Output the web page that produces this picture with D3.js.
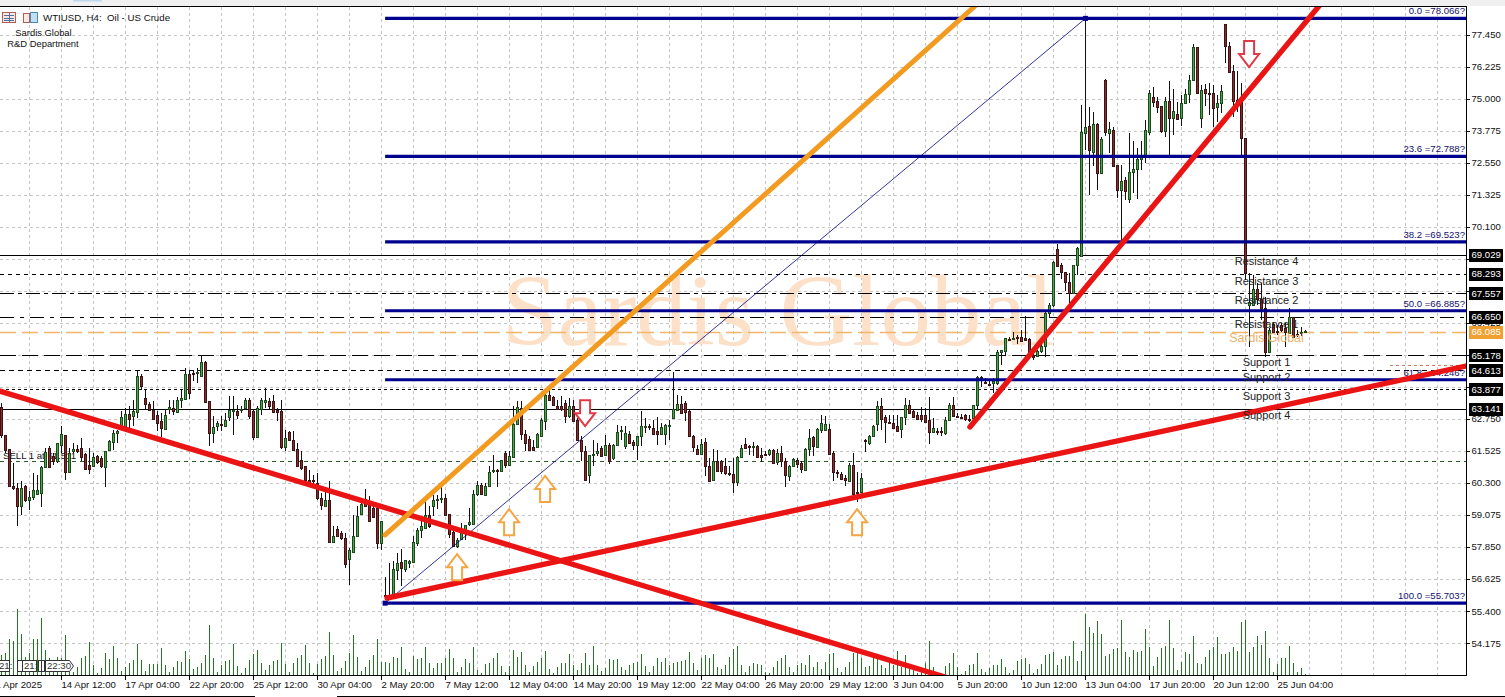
<!DOCTYPE html>
<html><head><meta charset="utf-8">
<style>html,body{margin:0;padding:0;background:#fff;overflow:hidden}svg{display:block}text{font-family:"Liberation Sans",Arial,sans-serif;white-space:pre}</style>
<script src="https://cdnjs.cloudflare.com/ajax/libs/d3/7.9.0/d3.min.js"></script>
</head><body><svg id="c" width="1505" height="697"></svg>
<script>
const opens=[63.21,62.15,61.60,60.19,60.10,59.40,60.17,59.66,59.76,59.89,59.91,60.91,61.64,61.32,61.13,61.76,62.13,60.70,61.51,61.61,
61.64,61.42,60.99,60.93,61.32,61.25,60.91,61.53,61.85,62.21,62.49,62.49,62.94,62.85,63.04,64.40,63.55,63.32,63.10,62.91,
62.66,62.39,63.13,63.17,63.04,63.49,63.51,64.48,64.51,64.48,64.40,64.94,63.42,62.21,62.49,62.57,62.49,62.85,63.06,63.06,
63.10,63.17,63.49,63.04,62.06,63.13,63.42,63.42,63.42,63.10,63.04,61.67,62.24,61.95,61.61,61.19,60.93,60.42,60.40,60.30,
59.72,59.44,59.66,58.06,58.54,58.38,58.19,57.39,57.68,58.28,59.12,59.68,59.47,59.34,59.34,58.00,56.02,56.00,56.02,56.98,
57.26,57.00,57.23,57.30,58.02,58.51,58.57,59.06,59.40,59.66,59.70,59.72,59.11,58.41,57.87,58.13,58.38,58.70,58.76,59.89,
60.23,59.85,60.17,60.74,60.81,60.74,61.44,61.00,61.32,62.57,63.17,62.18,61.98,61.67,61.67,62.11,62.69,63.68,63.59,63.26,
63.23,63.36,62.85,63.26,62.69,61.93,61.51,60.61,61.38,61.42,61.64,61.37,61.74,61.25,61.76,62.27,61.70,62.18,61.85,61.73,
62.08,62.44,62.47,62.40,62.27,62.18,62.18,62.49,62.78,63.10,63.33,63.36,63.06,62.11,61.60,61.42,61.85,60.96,60.42,61.13,
61.13,60.93,60.68,60.64,60.32,61.29,61.80,61.70,61.67,61.73,61.38,61.41,61.38,61.57,61.09,61.44,61.13,60.55,60.96,61.16,
61.06,60.81,61.60,62.06,61.67,62.34,62.34,62.36,61.44,60.70,60.65,60.49,60.40,61.00,59.96,59.94,61.93,61.83,62.11,62.53,
63.24,62.82,62.63,62.59,62.48,62.36,62.82,63.28,63.05,62.90,62.90,62.90,62.70,62.25,62.28,62.28,62.21,62.70,63.28,62.86,
62.82,62.90,62.74,62.78,63.28,64.35,64.16,64.08,64.12,64.12,65.31,65.34,65.80,65.80,65.88,65.88,65.84,65.80,65.19,65.15,
65.34,65.54,66.80,67.10,69.25,68.63,68.37,67.98,67.56,68.63,68.98,73.68,73.95,72.96,74.03,72.15,75.71,73.68,73.80,72.46,
71.50,71.89,71.16,72.19,72.31,72.69,72.84,73.72,75.06,74.91,74.72,73.76,74.91,74.26,74.41,74.26,74.83,75.17,75.71,76.97,
74.26,75.37,75.21,75.21,74.68,74.83,77.85,77.01,76.05,74.95,74.95,73.49,67.10,67.10,67.71,67.33,66.99,65.31,66.38,66.11,
66.34,66.22,66.03,66.64,65.99,66.07,66.11];
const closes=[62.15,61.57,60.17,60.10,59.40,60.10,59.63,59.76,60.02,60.04,60.91,61.47,60.93,61.13,61.83,62.18,60.70,61.44,61.60,61.55,
61.29,60.86,60.83,61.29,61.09,60.93,61.51,61.89,62.21,62.27,62.81,62.94,62.76,63.06,64.40,64.00,63.32,63.10,62.75,62.62,
62.39,62.91,63.21,63.06,63.49,63.55,64.48,63.74,64.48,64.53,64.94,63.42,62.21,62.44,62.59,62.53,62.72,63.10,63.10,62.91,
63.13,63.49,62.87,62.06,63.17,63.49,63.49,63.23,63.00,63.04,61.67,62.02,61.93,61.57,60.97,60.87,60.40,60.35,60.35,59.72,
59.44,59.66,58.06,58.28,58.28,58.19,57.21,57.74,58.28,59.05,59.50,59.43,58.87,59.00,58.00,58.83,56.00,55.89,57.00,57.23,
57.04,57.36,57.30,58.06,58.51,58.66,59.06,58.64,59.63,59.68,59.72,59.08,58.36,57.87,58.10,58.45,58.68,58.79,59.89,60.23,
59.89,60.19,60.72,60.78,60.78,61.16,61.00,61.34,62.57,63.21,62.18,61.83,61.55,61.55,62.18,62.72,63.68,63.49,63.27,63.13,
63.10,62.85,63.23,62.69,61.93,61.51,60.42,61.37,61.42,61.51,61.34,61.74,61.13,61.76,62.24,62.31,62.21,61.85,61.73,62.08,
62.47,62.49,62.44,62.16,62.15,62.44,62.52,62.52,63.13,63.33,63.00,63.01,62.11,61.70,61.42,61.80,60.93,60.40,61.13,60.74,
60.74,60.65,60.64,60.32,61.29,61.64,61.64,61.67,61.70,61.32,61.32,61.38,61.55,61.09,61.44,61.13,60.58,60.93,61.21,61.00,
60.83,61.60,62.02,61.70,62.36,62.59,62.57,61.42,60.70,60.65,60.45,60.40,61.00,59.91,59.94,60.49,61.90,62.11,62.49,63.23,
62.74,62.63,62.59,62.40,62.28,62.82,63.28,62.97,62.82,62.74,62.74,62.63,62.25,62.40,62.25,62.25,62.70,63.28,62.86,62.82,
62.80,62.74,62.70,63.28,64.35,64.31,64.12,64.04,64.20,65.31,65.38,65.84,65.77,65.84,65.84,65.73,65.77,65.19,65.11,65.34,
65.54,66.80,67.10,68.75,68.60,68.37,67.98,67.56,68.63,69.28,73.72,73.91,73.03,74.03,72.15,73.45,73.72,73.84,72.42,71.50,
71.85,71.46,72.19,72.31,72.69,72.84,73.80,75.21,74.87,74.68,73.76,74.91,74.26,74.52,74.22,74.83,75.17,75.71,76.97,75.21,
75.33,75.21,75.17,74.64,74.83,75.29,77.01,76.01,74.91,74.91,73.49,68.33,67.22,67.71,67.33,66.95,65.31,66.15,66.07,66.07,
66.15,66.07,66.64,65.88,65.96,66.07,66.11];
const highs=[63.36,62.15,61.60,61.06,60.30,60.36,60.23,59.98,60.68,60.61,60.93,61.64,61.70,61.44,61.83,62.49,62.13,61.64,61.83,61.76,
62.02,61.44,61.64,61.44,61.38,61.32,61.51,61.95,62.34,62.34,63.04,63.17,63.23,63.49,64.63,64.48,63.84,63.38,63.42,63.04,
62.98,63.13,63.49,63.49,63.58,63.87,64.70,64.63,64.63,64.70,65.21,64.95,63.42,62.85,62.66,62.85,62.98,63.61,63.61,63.29,
63.23,63.55,63.55,63.10,63.23,63.55,63.93,63.55,63.68,63.17,63.49,62.34,62.27,62.27,61.83,61.51,60.93,60.81,60.61,60.68,
59.91,59.98,60.36,58.64,58.66,58.45,58.38,57.81,59.08,59.40,59.66,60.07,59.79,59.59,59.40,58.83,56.70,57.23,57.30,57.62,
57.77,57.36,57.36,58.28,58.57,59.02,59.66,59.40,59.85,59.85,60.17,59.89,59.12,58.45,58.19,58.76,58.70,59.34,60.04,60.36,
60.30,60.30,60.93,61.38,60.83,61.19,61.51,61.51,63.23,63.42,63.42,62.34,62.11,61.95,62.21,62.78,63.87,63.89,63.61,63.49,
63.61,63.49,63.55,63.49,62.78,62.11,61.70,61.38,61.95,61.83,61.70,62.15,61.83,61.80,62.53,62.49,62.49,62.27,61.93,62.11,
63.06,62.78,62.57,62.69,62.82,62.59,62.57,62.72,64.53,63.68,63.61,63.42,63.08,62.15,61.76,61.98,62.02,61.25,61.60,61.57,
61.19,61.25,60.93,61.25,61.32,61.76,62.02,61.76,61.85,61.76,61.64,61.51,61.60,61.60,61.60,61.73,61.25,61.00,61.25,61.25,
61.13,61.64,62.36,62.11,62.40,62.91,62.85,62.57,61.51,60.81,60.70,60.61,61.06,61.44,60.70,60.68,61.98,62.15,62.53,63.45,
63.55,62.90,62.90,62.90,62.90,62.82,63.55,63.47,63.09,63.01,63.20,63.16,63.58,62.78,62.40,62.44,62.82,63.36,63.58,62.97,
62.93,62.93,62.90,63.28,64.39,64.39,64.31,64.20,64.31,65.38,65.38,65.84,65.88,66.07,65.96,66.15,66.68,65.84,65.27,65.38,
65.69,66.84,67.18,68.79,69.44,68.71,68.37,68.33,68.63,69.32,74.75,78.08,74.68,74.49,74.07,73.53,75.75,74.10,73.91,72.46,
72.46,72.00,73.68,73.38,73.11,73.38,74.18,75.33,75.44,75.06,74.72,75.06,75.67,75.37,74.87,75.14,75.37,75.90,77.09,76.97,
75.52,75.56,75.60,75.52,75.14,75.52,77.85,77.16,76.28,76.05,75.60,73.49,68.33,68.25,67.95,67.95,67.41,66.22,66.45,66.34,
66.41,66.41,66.99,66.64,66.15,66.26,66.15];
const lows=[62.02,61.44,60.17,60.04,58.64,59.08,59.59,59.28,59.66,59.85,59.38,60.88,60.91,61.00,61.06,61.44,60.40,60.68,61.44,61.44,
61.13,60.83,60.65,60.91,61.04,60.87,60.14,61.51,61.57,61.83,62.47,62.44,62.40,62.49,62.78,63.84,63.13,63.04,62.72,62.27,
62.06,62.36,62.95,62.91,62.98,63.17,63.49,63.51,64.19,64.12,64.40,63.36,61.70,61.83,62.27,62.27,62.47,62.66,62.15,62.75,
62.98,63.10,62.75,61.93,62.02,62.91,63.17,63.10,62.98,62.66,61.60,61.51,61.89,61.51,60.96,60.78,60.36,60.30,60.17,59.66,
59.28,59.40,58.02,58.02,58.25,58.10,57.04,56.40,57.62,58.25,59.08,59.40,58.83,58.96,57.77,57.74,55.89,55.86,55.96,56.60,
56.37,56.91,57.04,57.27,57.87,58.19,58.54,58.57,59.02,59.30,59.53,59.06,58.19,57.85,57.83,58.10,58.13,58.66,58.74,59.79,
59.85,59.79,60.14,60.68,60.14,60.72,60.87,60.97,61.29,62.53,61.95,61.51,61.51,61.51,61.64,62.06,62.34,63.49,63.26,63.10,
63.04,62.59,62.78,62.66,61.89,61.13,60.36,60.30,60.93,61.32,61.32,61.32,61.04,61.19,61.70,61.95,61.60,61.83,61.57,61.19,
61.73,62.21,62.34,62.15,61.76,62.15,61.74,61.95,62.76,63.04,62.98,62.66,62.08,61.47,61.38,61.38,60.55,60.32,60.36,60.70,
60.65,60.61,60.55,59.91,60.17,61.25,61.61,61.38,61.34,61.25,61.09,61.32,61.32,61.04,61.00,60.91,60.14,60.36,60.93,60.87,
60.68,60.78,61.32,61.32,61.64,62.21,62.27,61.38,60.36,60.49,60.42,60.17,60.36,59.76,59.56,59.91,61.47,61.76,62.08,62.27,
62.32,61.83,62.55,62.40,62.25,62.02,62.51,62.97,62.78,62.70,62.63,62.59,61.79,62.21,62.13,62.09,62.13,62.67,62.82,62.78,
62.74,62.67,62.63,62.74,63.13,63.97,64.08,64.04,63.74,64.04,64.81,65.19,65.73,65.77,65.61,65.69,65.77,65.11,65.00,65.11,
65.27,65.11,66.61,67.03,68.56,68.10,67.64,67.18,67.56,68.25,68.93,73.03,71.31,72.42,71.50,72.11,73.56,72.92,72.38,71.20,
69.55,71.12,71.00,71.39,71.16,72.27,72.53,73.60,74.68,74.45,73.68,73.53,72.84,73.60,74.18,73.95,74.83,74.83,75.67,75.21,
73.87,74.72,74.37,73.91,74.10,74.45,76.36,76.01,74.30,74.49,72.73,68.06,65.50,67.10,67.10,66.53,65.11,65.27,66.03,65.96,
66.07,65.50,65.99,65.84,65.88,65.92,66.03];
const volumes=[20,22,36,34,66,41,18,22,36,36,57,25,17,15,18,17,40,13,3,8,17,19,33,10,2,7,22,16,29,17,4,8,12,15,31,15,4,11,11,11,27,10,3,8,14,13,24,16,6,8,12,20,50,17,3,10,14,15,31,9,2,7,15,21,25,12,5,10,14,15,32,11,3,12,17,20,30,12,2,11,16,19,43,20,4,7,14,22,40,18,4,8,15,20,36,13,13,12,18,17,
28,6,3,19,16,17,28,12,7,12,12,17,26,17,3,8,16,12,28,5,2,11,12,17,22,9,3,9,25,18,23,10,3,9,13,17,24,6,2,8,12,12,21,10,5,12,22,10,29,10,4,7,16,15,16,8,5,10,12,13,21,9,3,9,17,13,17,10,12,13,14,15,23,12,5,17,20,17,21,8,6,10,18,26,29,10,3,9,12,11,10,3,2,8,14,17,20,8,3,10,
12,10,20,8,13,6,13,21,22,7,3,8,13,22,22,17,8,9,17,18,10,7,14,10,24,8,20,7,5,2,4,12,34,8,2,2,9,12,22,8,1,4,10,11,22,6,3,7,10,10,16,8,2,5,14,16,17,11,2,6,11,20,21,23,10,16,19,19,34,14,24,61,48,42,54,41,19,21,26,27,55,23,18,25,23,24,46,28,9,18,27,29,55,27,5,13,23,21,39,12,
11,18,25,28,38,21,21,23,28,24,53,55,23,28,39,30,44,17,3,11,17,17,29,12,3,7,1];
const priceTicks=[77.45,76.225,75,73.775,72.55,71.325,70.1,68.875,67.65,66.425,65.2,63.975,62.75,61.525,60.3,59.075,57.85,56.625,55.4,54.175];
const dateLabels=["14 Apr 12:00","17 Apr 04:00","22 Apr 20:00","25 Apr 12:00","30 Apr 04:00","2 May 20:00","7 May 12:00","12 May 04:00","14 May 20:00","19 May 12:00","22 May 04:00","26 May 20:00","29 May 12:00","3 Jun 04:00","5 Jun 20:00","10 Jun 12:00","13 Jun 04:00","17 Jun 20:00","20 Jun 12:00","25 Jun 04:00"];
const fibLevels=[0,23.6,38.2,50,61.8,100];
const fibPrices=[78.066,72.788,69.523,66.885,64.246,55.703];
const pivotPrices=[69.029,68.293,67.557,66.650,65.178,64.613,63.877,63.141];
const pivotDashes=[null,"4 4","14 4 4 4","14 6 4 6","16 6","5 4","3 3",null];
const pivotNames=["Resistance 4","Resistance 3","Resistance 2","Resistance 1","Support 1","Support 2","Support 3","Support 4"];
const pivotNameY=[68.78,68.02,67.28,66.38,64.92,64.35,63.62,62.90];
const lastPrice=66.085, sellPrice=61.14;
const redLines=[[-0.4,63.81,235.9,52.88],[96.4,55.90,366.1,64.77],[242.1,62.44,329.6,78.58]];
const orangeLine=[95.9,58.31,243.4,78.54];
const fibDiag=[95.9,55.703,271,78.066];
const upArrows=[[113.9,57.08],[126.9,58.80],[135.9,60.07],[213.9,58.80]];
const downArrows=[[145.9,62.97],[311.9,76.70]];

const W=1505,H=697,R=1466,T=7,B=675;
const x=d3.scaleLinear().domain([0,1]).range([1.5,5.5]);
const y=d3.scaleLinear().domain([77.45,54.175]).range([34.5,643.1]);
const v=d3.scaleLinear().domain([0,70]).range([B,B-70]);
const svg=d3.select("#c");
const defs=svg.append("defs");
defs.append("clipPath").attr("id","plot").append("rect").attr("x",0).attr("y",T).attr("width",R).attr("height",B-T);
const FONT=9.6, INK="#111";
svg.append("rect").attr("width",W).attr("height",H).attr("fill","#fff");
svg.append("rect").attr("width",W).attr("height",6).attr("fill","#f0f0f0");
svg.append("rect").attr("x",73).attr("width",29).attr("height",1.5).attr("fill","#bcd8ee");
const plot=svg.append("g").attr("clip-path","url(#plot)");
// grid
const gg=plot.append("g").attr("stroke","#c4c4c4").attr("stroke-dasharray","3 3").attr("shape-rendering","crispEdges");
gg.selectAll("line.h").data(priceTicks).join("line").attr("class","h").attr("x1",0).attr("x2",R).attr("y1",d=>Math.round(y(d))+.5).attr("y2",d=>Math.round(y(d))+.5);
gg.selectAll("line.v").data(d3.range(7,366,8)).join("line").attr("class","v").attr("x1",d=>x(d)).attr("x2",d=>x(d)).attr("y1",T).attr("y2",B);
// watermark
plot.append("text").attr("x",778).attr("y",345).attr("text-anchor","middle").style("font-family","'Liberation Serif',serif").style("font-size","101px").attr("fill","#fde0c8").text("Sardis Global");
// pivots
const ph=plot.append("g").attr("shape-rendering","crispEdges");
ph.selectAll("line").data(pivotPrices).join("line").attr("x1",0).attr("x2",R).attr("y1",d=>Math.round(y(d))+.5).attr("y2",d=>Math.round(y(d))+.5).attr("stroke","#000").attr("stroke-dasharray",(d,i)=>pivotDashes[i]);
plot.append("line").attr("x1",0).attr("x2",R).attr("y1",Math.round(y(lastPrice))+.5).attr("y2",Math.round(y(lastPrice))+.5).attr("stroke","#f0b66e").attr("stroke-width",1.5).attr("stroke-dasharray","16 6");
plot.append("line").attr("x1",0).attr("x2",R).attr("y1",Math.round(y(sellPrice))+.5).attr("y2",Math.round(y(sellPrice))+.5).attr("stroke","#2d5a2d").attr("stroke-dasharray","4 4").attr("shape-rendering","crispEdges");
plot.append("text").attr("x",3).attr("y",y(sellPrice)-2).style("font-size",FONT+"px").attr("fill","#111").text("SELL 1 at 61.511");
// volumes
plot.append("g").attr("stroke","#1f7a1f").attr("shape-rendering","crispEdges").selectAll("line").data(volumes).join("line")
 .attr("x1",(d,i)=>x(i)).attr("x2",(d,i)=>x(i)).attr("y1",B).attr("y2",d=>v(d));
// candles
const idx=d3.range(opens.length);
const cg=plot.append("g").attr("shape-rendering","crispEdges");
cg.selectAll("line").data(idx).join("line").attr("x1",i=>x(i)).attr("x2",i=>x(i)).attr("y1",i=>y(highs[i])).attr("y2",i=>y(lows[i])).attr("stroke","#111");
cg.selectAll("rect").data(idx).join("rect").attr("x",i=>x(i)-1).attr("width",2)
 .attr("y",i=>Math.round(y(Math.max(opens[i],closes[i])))+.5)
 .attr("height",i=>Math.max(1,Math.round(Math.abs(y(opens[i])-y(closes[i])))))
 .attr("fill",i=>closes[i]>=opens[i]?"#49a649":"#8a2a2a")
 .attr("stroke",i=>closes[i]>=opens[i]?"#1c4a1c":"#3a1414");
// fib
const fib=plot.append("g");
fib.selectAll("line").data(fibPrices).join("line").attr("x1",x(fibDiag[0])).attr("x2",R).attr("y1",d=>y(d)).attr("y2",d=>y(d)).attr("stroke","#00008f").attr("stroke-width",3.2);
plot.append("line").attr("x1",x(fibDiag[0])).attr("y1",y(fibDiag[1])).attr("x2",x(fibDiag[2])).attr("y2",y(fibDiag[3])).attr("stroke","#000080").attr("stroke-width",.8);
plot.selectAll("rect.anchor").data([[fibDiag[0],fibDiag[1]],[fibDiag[2],fibDiag[3]]]).join("rect").attr("class","anchor").attr("x",d=>x(d[0])-2.5).attr("y",d=>y(d[1])-2.5).attr("width",5).attr("height",5).attr("fill","#00008f");
plot.selectAll("text.fib").data(fibLevels).join("text").attr("class","fib").attr("x",R-1).attr("y",(d,i)=>y(fibPrices[i])-4).attr("text-anchor","end").style("font-size",FONT+"px").attr("fill","#12126b").text((d,i)=>d.toFixed(1)+" ="+fibPrices[i].toFixed(3)+"?");
// trend
plot.append("line").attr("x1",1390).attr("x2",1462).attr("y1",365.5).attr("y2",365.5).attr("stroke","#d08060").attr("stroke-dasharray","3 3").attr("shape-rendering","crispEdges");
plot.selectAll("line.red").data(redLines).join("line").attr("class","red").attr("x1",d=>x(d[0])).attr("y1",d=>y(d[1])).attr("x2",d=>x(d[2])).attr("y2",d=>y(d[3])).attr("stroke","#ea1414").attr("stroke-width",5.4).attr("stroke-linecap","round");
plot.append("line").attr("x1",x(orangeLine[0])).attr("y1",y(orangeLine[1])).attr("x2",x(orangeLine[2])).attr("y2",y(orangeLine[3])).attr("stroke","#f39a20").attr("stroke-width",5).attr("stroke-linecap","round");
// arrows
const upPath="M0,-13 L10,0 L5,0 L5,13 L-5,13 L-5,0 L-10,0 Z";
plot.selectAll("path.up").data(upArrows).join("path").attr("class","up").attr("d",upPath).attr("transform",d=>`translate(${x(d[0])},${y(d[1])})`).attr("fill","#fff").attr("stroke","#f4a544").attr("stroke-width",2);
plot.selectAll("path.down").data(downArrows).join("path").attr("class","down").attr("d",upPath).attr("transform",d=>`translate(${x(d[0])},${y(d[1])}) rotate(180)`).attr("fill","#fff").attr("stroke","#e03a48").attr("stroke-width",2);
// pivot names
plot.selectAll("text.piv").data(pivotNames).join("text").attr("class","piv").attr("x",1266.5).attr("y",(d,i)=>y(pivotNameY[i])).attr("dy","0.35em").attr("text-anchor","middle").style("font-size","11px").attr("fill","#222").text(d=>d);
plot.append("text").attr("x",1266.5).attr("y",y(65.84)).attr("dy","0.35em").attr("text-anchor","middle").style("font-size","12.4px").attr("fill","#eeb26a").text("Sardis Global");
// frame
const fr=svg.append("g").attr("stroke","#000").attr("shape-rendering","crispEdges");
fr.append("line").attr("x1",0).attr("x2",R+1).attr("y1",6.5).attr("y2",6.5);
fr.append("line").attr("x1",R+.5).attr("x2",R+.5).attr("y1",6).attr("y2",B+1);
fr.append("line").attr("x1",0).attr("x2",R+1).attr("y1",B+.5).attr("y2",B+.5);
fr.append("line").attr("x1",0).attr("x2",255).attr("y1",696.5).attr("y2",696.5);
fr.append("line").attr("x1",337).attr("x2",W).attr("y1",696.5).attr("y2",696.5);
// price axis
const ya=svg.append("g");
ya.selectAll("line").data(priceTicks).join("line").attr("x1",R).attr("x2",R+4).attr("y1",d=>Math.round(y(d))+.5).attr("y2",d=>Math.round(y(d))+.5).attr("stroke","#000").attr("shape-rendering","crispEdges");
ya.selectAll("text").data(priceTicks).join("text").attr("x",R+5.5).attr("y",d=>y(d)).attr("dy","0.36em").style("font-size",FONT+"px").attr("fill",INK).text(d=>d.toFixed(3));
// tags
const tags=svg.append("g");
pivotPrices.forEach(p=>{
 const t=tags.append("g");
 t.append("rect").attr("x",R+3).attr("y",Math.round(y(p))-6).attr("width",34).attr("height",13).attr("fill","#000");
 t.append("text").attr("x",R+5.5).attr("y",y(p)).attr("dy","0.36em").style("font-size",FONT+"px").attr("fill","#fff").text(p.toFixed(3));
});
tags.append("rect").attr("x",R+3).attr("y",Math.round(y(lastPrice))-6).attr("width",34).attr("height",13).attr("fill","#f0a030");
tags.append("text").attr("x",R+5.5).attr("y",y(lastPrice)).attr("dy","0.36em").style("font-size",FONT+"px").attr("fill","#fff").text(lastPrice.toFixed(3));
// time axis
const xa=svg.append("g");
xa.selectAll("line").data(dateLabels).join("line").attr("x1",(d,i)=>x(15+16*i)).attr("x2",(d,i)=>x(15+16*i)).attr("y1",B).attr("y2",B+5).attr("stroke","#000").attr("shape-rendering","crispEdges");
xa.selectAll("text").data(dateLabels).join("text").attr("x",(d,i)=>x(15+16*i)).attr("y",688).style("font-size",FONT+"px").attr("fill",INK).text(d=>d);
xa.append("text").attr("x",42).attr("y",688).attr("text-anchor","end").style("font-size",FONT+"px").attr("fill",INK).text("11 Apr 2025");
// session tags
const st=svg.append("g").attr("shape-rendering","crispEdges");
[["21:",-3,12],["",17,5],["21:",22,14],["",38,3],["",41,3]].forEach(t=>{
 st.append("rect").attr("x",t[1]+.5).attr("y",660.5).attr("width",t[2]).attr("height",11).attr("fill","#fff").attr("stroke","#333");
 if(t[0])st.append("text").attr("x",t[1]+2).attr("y",669).style("font-size",FONT+"px").attr("fill","#333").text(t[0]);
});
svg.append("path").attr("d","M45.5,660.5H69.5L73.5,666L69.5,671.5H45.5Z").attr("fill","#fff").attr("stroke","#333");
svg.append("text").attr("x",47).attr("y",669).style("font-size",FONT+"px").attr("fill","#333").text("22:30");
// header
const ic=svg.append("g").attr("fill","none").attr("shape-rendering","crispEdges");
ic.append("rect").attr("x",2.5).attr("y",12.5).attr("width",13).attr("height",10).attr("stroke","#b06050").attr("fill","#fde8e4");
[15.5,18.5,20.5].forEach(v0=>ic.append("line").attr("x1",4).attr("x2",14).attr("y1",v0).attr("y2",v0).attr("stroke","#5070a0"));
ic.append("line").attr("x1",9.5).attr("x2",9.5).attr("y1",13).attr("y2",22).attr("stroke","#5070a0");
ic.append("rect").attr("x",23.5).attr("y",13.5).attr("width",6).attr("height",9).attr("stroke","#b06050").attr("fill","#fde8e4");
ic.append("rect").attr("x",30.5).attr("y",12.5).attr("width",7).attr("height",10).attr("stroke","#4a88b8").attr("fill","#bfe0f5");
svg.append("text").attr("x",43).attr("y",21).style("font-size","9.7px").attr("fill","#111").text("WTIUSD, H4:  Oil - US Crude");
svg.append("text").attr("x",43.5).attr("y",35.5).attr("text-anchor","middle").style("font-size","9.4px").attr("fill","#111").text("Sardis Global");
svg.append("text").attr("x",43).attr("y",47).attr("text-anchor","middle").style("font-size","9.4px").attr("fill","#111").text("R&D Department");
</script></body></html>
